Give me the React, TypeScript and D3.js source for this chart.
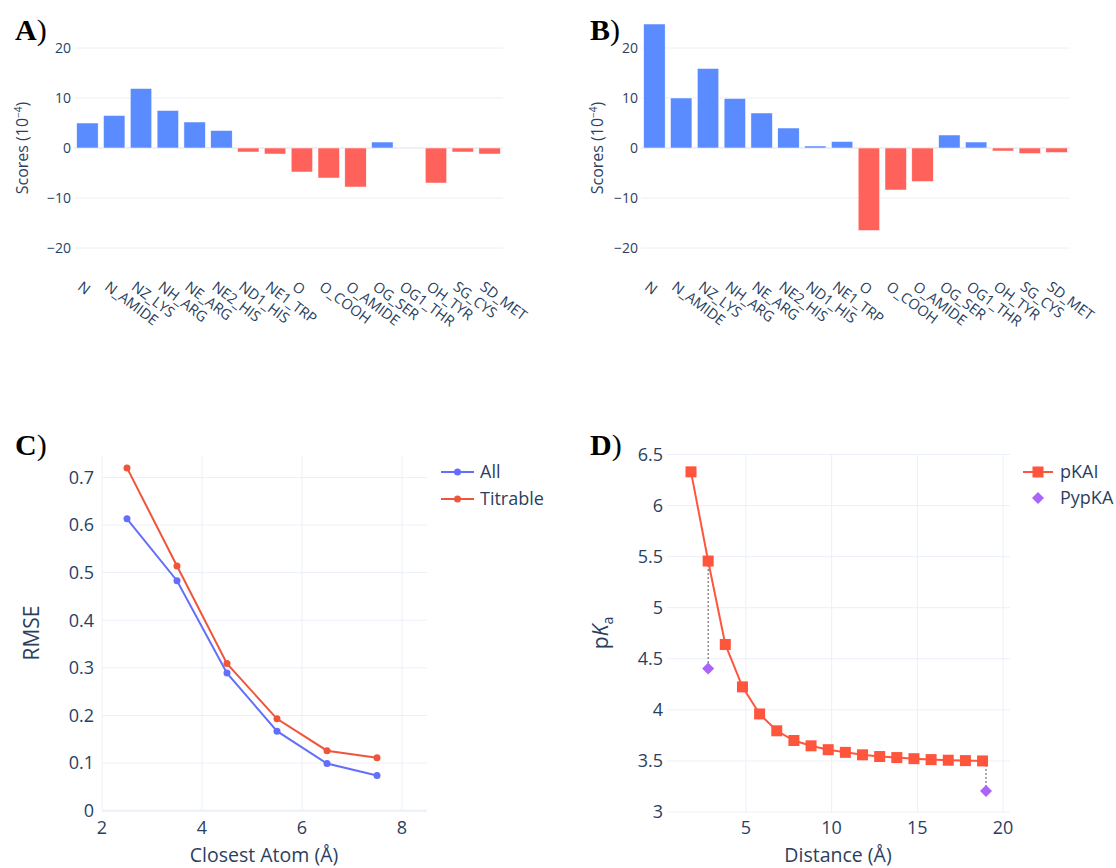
import React from 'react';
import * as d3 from 'd3';

// bar panels (A, B)
const atomTypes = ['N', 'N_AMIDE', 'NZ_LYS', 'NH_ARG', 'NE_ARG', 'NE2_HIS', 'ND1_HIS', 'NE1_TRP', 'O', 'O_COOH', 'O_AMIDE', 'OG_SER', 'OG1_THR', 'OH_TYR', 'SG_CYS', 'SD_MET'];
const scoresA = [5, 6.5, 11.9, 7.5, 5.2, 3.5, -0.8, -1.2, -4.8, -6, -7.8, 1.2, 0.1, -7, -0.8, -1.2];
const scoresB = [24.8, 10, 15.9, 9.9, 7, 4, 0.4, 1.3, -16.5, -8.4, -6.7, 2.6, 1.2, -0.6, -1.1, -0.9];
const scoreTicks = [-20, -10, 0, 10, 20];

// panel C
const closestAtom = [2.5, 3.5, 4.5, 5.5, 6.5, 7.5];
const rmseAll = [0.613, 0.483, 0.289, 0.167, 0.099, 0.074];
const rmseTitrable = [0.72, 0.514, 0.309, 0.193, 0.126, 0.111];
const rmseTicks = [0, 0.1, 0.2, 0.3, 0.4, 0.5, 0.6, 0.7];
const atomTicks = [2, 4, 6, 8];

// panel D
const distance = [1.8, 2.8, 3.8, 4.8, 5.8, 6.8, 7.8, 8.8, 9.8, 10.8, 11.8, 12.8, 13.8, 14.8, 15.8, 16.8, 17.8, 18.8];
const pkai = [6.33, 5.457, 4.64, 4.225, 3.96, 3.795, 3.70, 3.648, 3.61, 3.584, 3.56, 3.543, 3.533, 3.522, 3.513, 3.507, 3.503, 3.50];
const pypkaX = [2.8, 19];
const pypka = [4.405, 3.205];
const pkaTicks = [3, 3.5, 4, 4.5, 5, 5.5, 6, 6.5];
const distTicks = [5, 10, 15, 20];

const TXT = '#2a3f5f';
const GRID = '#EBF0F8';
const BLUE_BAR = '#5A8CFF';
const RED_BAR = '#FF625B';
const FONT = "'Open Sans', sans-serif";
const SERIF = "'Liberation Serif', 'DejaVu Serif', serif";

const PanelLabel = ({ x, y, letter }) => (
    <text x={x} y={y} fontFamily={SERIF} fontSize={30} fill="#000">
        <tspan fontWeight="bold">{letter}</tspan>)
    </text>
);

const BarPanel = ({ letter, values, x0, x1, labelX }) => {
    const x = d3.scaleBand().domain(atomTypes).range([x0, x1]).paddingInner(0.2).paddingOuter(0.1);
    const y = d3.scaleLinear().domain([-25, 25]).range([273, 23]);
    const bw = x.bandwidth();
    return (
        <g>
            {scoreTicks.map(t => (
                <g key={t}>
                    <line x1={x0} x2={x1} y1={y(t)} y2={y(t)} stroke={GRID} strokeWidth={t === 0 ? 2 : 1} />
                    <text x={x0 - 3} y={y(t)} dy="0.35em" textAnchor="end" fontSize={14} fill={TXT}>
                        {t < 0 ? '\u2212' + Math.abs(t) : t}
                    </text>
                </g>
            ))}
            {values.map((v, i) => (
                <rect key={atomTypes[i]} x={x(atomTypes[i])} width={bw}
                    y={Math.min(y(v), y(0))} height={Math.abs(y(v) - y(0))}
                    fill={v >= 0 ? BLUE_BAR : RED_BAR} stroke="#fff" strokeWidth={0.5} />
            ))}
            {atomTypes.map(c => (
                <text key={c} transform={`translate(${x(c) + bw / 2 - 4},280) rotate(37)`}
                    dy="0.75em" fontSize={14.5} fill={TXT}>{c}</text>
            ))}
            <text transform={`translate(${labelX + 13},148) rotate(-90)`} textAnchor="middle" fontSize={16} fill={TXT}>
                Scores (10<tspan dy={-6} fontSize={10}>{'\u2212'}4</tspan><tspan dy={6}>)</tspan>
            </text>
            <PanelLabel x={labelX} y={40} letter={letter} />
        </g>
    );
};

const RmsePanel = () => {
    const x = d3.scaleLinear().domain([2, 8.5]).range([102, 427]);
    const y = d3.scaleLinear().domain([0, 0.745]).range([810.7, 456]);
    const line = d3.line().x((d, i) => x(closestAtom[i])).y(d => y(d));
    const series = [
        { name: 'All', values: rmseAll, color: '#636EFA' },
        { name: 'Titrable', values: rmseTitrable, color: '#EF553B' },
    ];
    return (
        <g>
            {atomTicks.map(t => (
                <g key={t}>
                    <line x1={x(t)} x2={x(t)} y1={y(0.745)} y2={y(0)} stroke={GRID} />
                    <text x={x(t)} y={834} textAnchor="middle" fontSize={18} fill={TXT}>{t}</text>
                </g>
            ))}
            {rmseTicks.map(t => (
                <g key={t}>
                    <line x1={x(2)} x2={x(8.5)} y1={y(t)} y2={y(t)} stroke={GRID} strokeWidth={t === 0 ? 2 : 1} />
                    <text x={94} y={y(t)} dy="0.35em" textAnchor="end" fontSize={18} fill={TXT}>{t}</text>
                </g>
            ))}
            {series.map(s => (
                <g key={s.name}>
                    <path d={line(s.values)} fill="none" stroke={s.color} strokeWidth={2} />
                    {s.values.map((v, i) => (
                        <circle key={i} cx={x(closestAtom[i])} cy={y(v)} r={3.5} fill={s.color} />
                    ))}
                </g>
            ))}
            {series.map((s, i) => (
                <g key={s.name} transform={`translate(441,${472 + i * 27})`}>
                    <line x1={0} x2={33} stroke={s.color} strokeWidth={2} />
                    <circle cx={16.5} r={3.5} fill={s.color} />
                    <text x={39} dy="0.35em" fontSize={18} fill={TXT}>{s.name}</text>
                </g>
            ))}
            <text x={264} y={862} textAnchor="middle" fontSize={19.5} fill={TXT}>Closest Atom (Å)</text>
            <text transform="translate(39,633) rotate(-90)" textAnchor="middle" fontSize={21} fill={TXT}>RMSE</text>
            <PanelLabel x={15} y={455} letter="C" />
        </g>
    );
};

const diamond = (cx, cy, r) => `M${cx},${cy - r}L${cx + r},${cy}L${cx},${cy + r}L${cx - r},${cy}Z`;

const PkaPanel = () => {
    const x = d3.scaleLinear().domain([0.4, 20.4]).range([667, 1010]);
    const y = d3.scaleLinear().domain([3, 6.5]).range([812, 454.5]);
    const line = d3.line().x((d, i) => x(distance[i])).y(d => y(d));
    const red = '#FF553D';
    const purple = '#AB63FA';
    const nearest = px => pkai[d3.minIndex(distance, d => Math.abs(d - px))];
    return (
        <g>
            {distTicks.map(t => (
                <g key={t}>
                    <line x1={x(t)} x2={x(t)} y1={y(6.5)} y2={y(3)} stroke={GRID} />
                    <text x={x(t)} y={834} textAnchor="middle" fontSize={18} fill={TXT}>{t}</text>
                </g>
            ))}
            {pkaTicks.map(t => (
                <g key={t}>
                    <line x1={x(0.4)} x2={x(20.4)} y1={y(t)} y2={y(t)} stroke={GRID} />
                    <text x={663} y={y(t)} dy="0.35em" textAnchor="end" fontSize={18} fill={TXT}>{t}</text>
                </g>
            ))}
            {pypkaX.map((px, i) => (
                <line key={px} x1={x(px)} x2={x(px)} y1={y(nearest(px))} y2={y(pypka[i])}
                    stroke="#555" strokeWidth={1} strokeDasharray="2,2" />
            ))}
            <path d={line(pkai)} fill="none" stroke={red} strokeWidth={2} />
            {pkai.map((v, i) => (
                <rect key={i} x={x(distance[i]) - 5.5} y={y(v) - 5.5} width={11} height={11} fill={red} />
            ))}
            {pypka.map((v, i) => (
                <path key={i} d={diamond(x(pypkaX[i]), y(v), 6)} fill={purple} />
            ))}
            <g transform="translate(1023,472)">
                <line x1={0} x2={30} stroke={red} strokeWidth={2} />
                <rect x={9.5} y={-5.5} width={11} height={11} fill={red} />
                <text x={37} dy="0.35em" fontSize={18} fill={TXT}>pKAI</text>
            </g>
            <g transform="translate(1023,498)">
                <path d={diamond(15, 0, 6)} fill={purple} />
                <text x={37} dy="0.35em" fontSize={18} fill={TXT}>PypKA</text>
            </g>
            <text x={838} y={862} textAnchor="middle" fontSize={19.5} fill={TXT}>Distance (Å)</text>
            <text transform="translate(608,633) rotate(-90)" textAnchor="middle" fontSize={21} fill={TXT}>
                p<tspan fontStyle="italic">K</tspan><tspan dy={5} fontSize={14}>a</tspan>
            </text>
            <PanelLabel x={590} y={455} letter="D" />
        </g>
    );
};

export default function App() {
    return (
        <svg width={1116} height={868} fontFamily={FONT}
            style={{ position: 'absolute', left: 0, top: 0, background: '#fff' }}>
            <BarPanel letter="A" values={scoresA} x0={74} x1={503} labelX={15} />
            <BarPanel letter="B" values={scoresB} x0={641} x1={1070} labelX={590} />
            <RmsePanel />
            <PkaPanel />
        </svg>
    );
}
